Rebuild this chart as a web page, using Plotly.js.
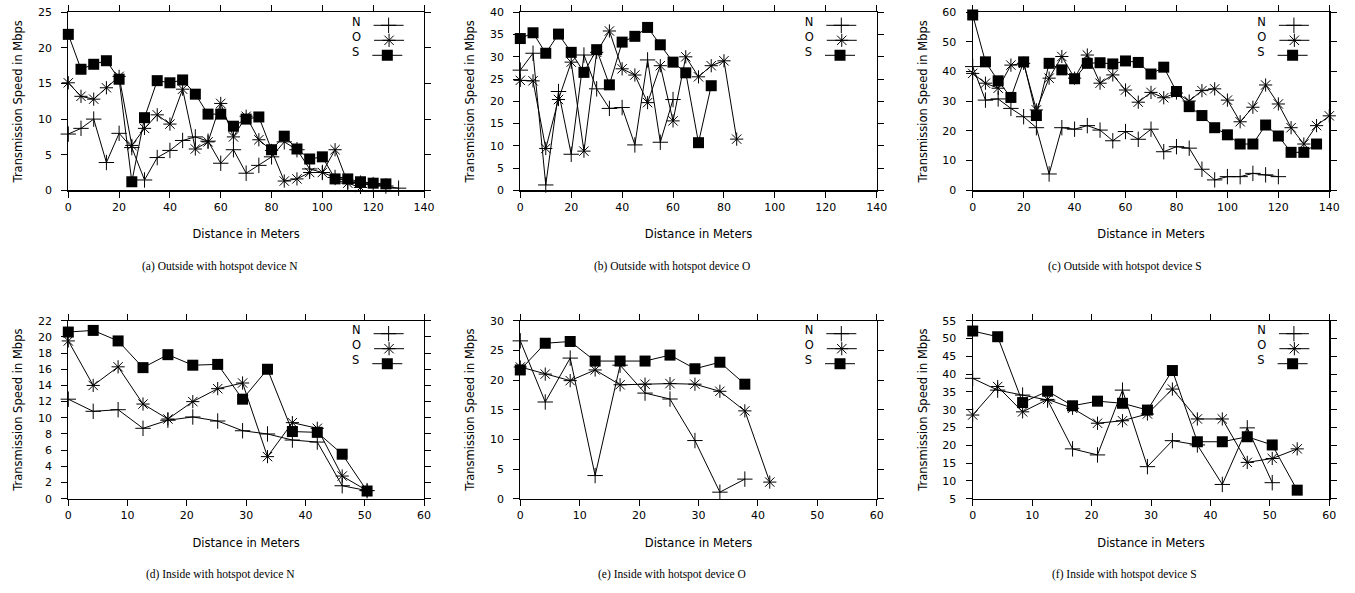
<!DOCTYPE html>
<html>
<head>
<meta charset="utf-8">
<script src="https://cdn.plot.ly/plotly-3.0.1.min.js"></script>
<style>html,body{margin:0;padding:0;background:#fff;}#chart{width:1355px;height:593px;}</style>
</head>
<body>
<div id="chart"></div>
<script>
// ---------------- data ----------------
const seriesNames = ["N", "O", "S"];
const distOutside = [0,5,10,15,20,25,30,35,40,45,50,55,60,65,70,75,80,85,90,95,100,105,110,115,120,125,130,135,140];
const distInside = [0,4.2,8.4,12.6,16.8,21,25.2,29.4,33.6,37.8,42,46.2,50.4,54.6];

// (a) Outside, hotspot device N
const outN_N = [7.9,8.7,10.0,3.9,8.0,6.0,1.45,4.6,5.6,7.0,7.5,6.9,3.8,5.7,2.4,3.5,4.7,6.8,5.7,3.0,2.5,1.8,1.2,1.0,0.8,0.6,0.3];
const outN_O = [15.1,13.2,12.8,14.4,16.0,6.3,8.7,10.6,9.3,14.2,5.8,6.8,12.2,7.5,10.4,7.1,5.6,1.3,1.6,2.5,2.5,5.7,1.0,0.4];
const outN_S = [21.9,17.0,17.7,18.2,15.6,1.2,10.2,15.4,15.1,15.5,13.5,10.7,10.7,9.0,10.0,10.3,5.7,7.6,5.8,4.4,4.7,1.6,1.6,1.2,1.0,0.9];
// (b) Outside, hotspot device O
const outO_N = [27.0,30.8,1.2,22.2,8.1,30.4,22.8,18.4,18.6,10.2,29.3,10.8,20.4];
const outO_O = [24.7,24.6,9.4,20.4,28.8,8.8,31.0,35.8,27.3,25.9,19.7,28.0,15.6,30.0,25.5,28.0,29.1,11.5];
const outO_S = [34.1,35.4,30.8,35.1,31.0,26.5,31.6,23.7,33.3,34.6,36.6,32.7,28.8,26.4,10.7,23.5];
// (c) Outside, hotspot device S
const outS_N = [41.7,30.4,30.8,27.6,24.8,21.1,5.5,21.1,20.6,21.8,20.3,16.7,19.8,17.2,20.6,13.0,14.7,14.2,7.1,3.5,4.6,4.6,5.7,5.2,4.6];
const outS_O = [39.4,36.1,34.4,42.2,42.8,27.1,37.8,45.1,37.8,45.6,36.1,38.9,33.8,29.7,33.0,31.2,32.8,30.1,33.6,34.2,30.4,23.1,28.0,35.5,29.1,21.1,15.6,21.8,25.1];
const outS_S = [59.1,43.3,36.9,31.3,43.3,25.2,42.8,40.6,37.6,42.8,43.0,42.6,43.6,43.1,39.2,41.5,33.3,28.2,25.2,21.1,18.7,15.6,15.6,22.0,18.3,12.8,12.8,15.6];
// (d) Inside, hotspot device N
const inN_N = [12.3,10.8,11.0,8.7,9.7,10.1,9.6,8.4,8.0,7.25,7.0,1.6,1.0];
const inN_O = [19.5,14.0,16.3,11.7,9.85,12.0,13.6,14.3,5.2,9.4,8.7,2.8,1.0];
const inN_S = [20.6,20.8,19.5,16.2,17.8,16.5,16.6,12.3,16.0,8.3,8.2,5.5,0.95];
// (e) Inside, hotspot device O
const inO_N = [26.6,16.3,23.7,3.9,22.5,17.8,16.8,9.8,1.1,3.3];
const inO_O = [22.2,21.0,19.9,21.7,19.2,19.3,19.4,19.3,18.1,14.8,2.8];
const inO_S = [21.7,26.2,26.5,23.2,23.2,23.2,24.2,21.9,23.0,19.3];
// (f) Inside, hotspot device S
const inS_N = [38.8,35.5,34.1,32.7,19.0,17.3,35.5,14.0,21.3,20.1,9.0,24.9,9.5];
const inS_O = [28.5,36.5,29.4,32.9,30.4,26.2,26.9,28.8,35.8,27.4,27.4,15.2,16.3,19.0];
const inS_S = [52.1,50.5,32.0,35.2,31.1,32.4,31.8,29.9,41.0,21.0,21.0,22.4,20.1,7.4];

const captions = [
  "(a) Outside with hotspot device N",
  "(b) Outside with hotspot device O",
  "(c) Outside with hotspot device S",
  "(d) Inside with hotspot device N",
  "(e) Inside with hotspot device O",
  "(f) Inside with hotspot device S"
];
const xTitle = "Distance in Meters";
const yTitle = "Transmission Speed in Mbps";

// ---------------- layout config ----------------
const W = 1355, H = 593;
const panels = [
  {dist: distOutside, vals: [outN_N, outN_O, outN_S], xr: [0,140], xd: 20, yr: [0,25], yd: 5, px: [68.3, 424], py: [12.3, 190.3]},
  {dist: distOutside, vals: [outO_N, outO_O, outO_S], xr: [0,140], xd: 20, yr: [0,40], yd: 5, px: [520.3, 876.7], py: [12.3, 190.3]},
  {dist: distOutside, vals: [outS_N, outS_O, outS_S], xr: [0,140], xd: 20, yr: [0,60], yd: 10, px: [972.7, 1329.3], py: [12.3, 190.3]},
  {dist: distInside, vals: [inN_N, inN_O, inN_S], xr: [0,60], xd: 10, yr: [0,22], yd: 2, px: [68.3, 424], py: [320.7, 498.7]},
  {dist: distInside, vals: [inO_N, inO_O, inO_S], xr: [0,60], xd: 10, yr: [0,30], yd: 5, px: [520.3, 876.7], py: [320.7, 498.7]},
  {dist: distInside, vals: [inS_N, inS_O, inS_S], xr: [0,60], xd: 10, yr: [5,55], yd: 5, px: [972.7, 1329.3], py: [320.7, 498.7]}
];
const markerStyles = [
  {symbol: "cross-thin-open", size: 11, color: "#000", line: {width: 1, color: "#000"}},
  {symbol: "asterisk-open", size: 11, color: "#000", line: {width: 1, color: "#000"}},
  {symbol: "square", size: 11, color: "#000", line: {width: 0}}
];

const tickFont = {family: "DejaVu Sans", size: 11, color: "#000"};
const titleFont = {family: "DejaVu Sans", size: 11.5, color: "#000"};

const traces = [];
const layout = {
  width: W, height: H,
  margin: {l: 0, r: 0, t: 0, b: 0},
  paper_bgcolor: "#fff", plot_bgcolor: "#fff",
  font: tickFont,
  showlegend: true,
  annotations: []
};

panels.forEach((p, i) => {
  const k = i + 1;
  const xa = "xaxis" + (k === 1 ? "" : k);
  const ya = "yaxis" + (k === 1 ? "" : k);
  const axBase = {
    showgrid: false, zeroline: false, showline: true, linecolor: "#000", linewidth: 1.2,
    mirror: "ticks", ticks: "outside", ticklen: 6, tickwidth: 1, tickcolor: "#000",
    tickfont: tickFont, fixedrange: true
  };
  layout[xa] = Object.assign({}, axBase, {
    domain: [p.px[0] / W, p.px[1] / W], range: p.xr, dtick: p.xd, tick0: 0,
    anchor: "y" + (k === 1 ? "" : k),
    title: {text: xTitle, font: titleFont, standoff: 17}
  });
  layout[ya] = Object.assign({}, axBase, {
    domain: [1 - p.py[1] / H, 1 - p.py[0] / H], range: p.yr, dtick: p.yd, tick0: 0,
    anchor: "x" + (k === 1 ? "" : k),
    ticklabelstandoff: 7,
    title: {text: yTitle, font: titleFont, standoff: 12}
  });
  p.vals.forEach((v, j) => {
    const lid = i * 3 + j + 1;
    const legId = lid === 1 ? "legend" : "legend" + lid;
    traces.push({
      type: "scatter", mode: "lines+markers",
      x: p.dist.slice(0, v.length), y: v,
      xaxis: "x" + (k === 1 ? "" : k), yaxis: "y" + (k === 1 ? "" : k),
      name: "", legend: legId, showlegend: true,
      line: {color: "#000", width: 1},
      marker: markerStyles[j],
      cliponaxis: false
    });
    layout[legId] = {
      x: (p.px[1] - 74) / W, xanchor: "left",
      y: 1 - (p.py[0] + 13 + 15 * j) / H, yanchor: "middle",
      bgcolor: "rgba(0,0,0,0)", borderwidth: 0,
      font: tickFont, itemwidth: 30,
      title: {text: seriesNames[j], side: "left", font: titleFont}
    };
  });
  layout.annotations.push({
    xref: "paper", yref: "paper",
    x: (p.px[0] - 68 + 220) / W, y: 1 - (p.py[1] + 76) / H,
    xanchor: "center", yanchor: "middle", showarrow: false,
    text: captions[i],
    font: {family: "Liberation Serif", size: 11.5, color: "#000"}
  });
});

Plotly.newPlot("chart", traces, layout, {displayModeBar: false, staticPlot: true});
</script>
</body>
</html>
